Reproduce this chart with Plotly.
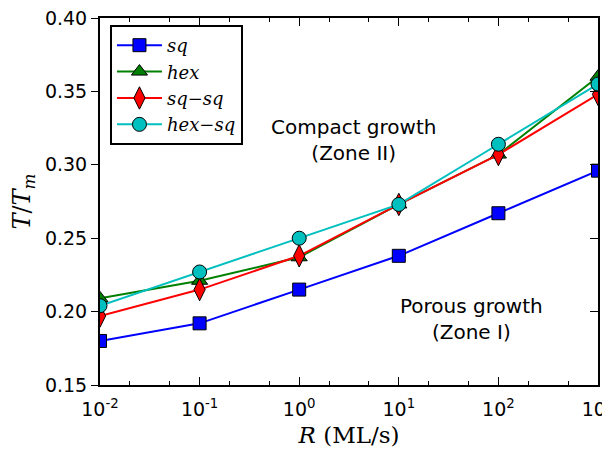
import plotly.graph_objects as go

R = [0.01, 0.1, 1, 10, 100, 1000]
sq = [0.180, 0.192, 0.215, 0.238, 0.267, 0.296]
hexa = [0.209, 0.221, 0.237, 0.273, 0.307, 0.360]
sqsq = [0.197, 0.215, 0.238, 0.273, 0.307, 0.348]
hexsq = [0.204, 0.227, 0.250, 0.273, 0.314, 0.355]

x_tickvals = [0.01, 0.1, 1, 10, 100, 1000]
x_ticktext = ["10<sup>-2</sup>", "10<sup>-1</sup>", "10<sup>0</sup>", "10<sup>1</sup>", "10<sup>2</sup>", "10<sup>3</sup>"]
y_tickvals = [0.15, 0.20, 0.25, 0.30, 0.35, 0.40]
y_ticktext = ["0.15", "0.20", "0.25", "0.30", "0.35", "0.40"]

series = [
    ("sq", sq, "#0000ff", "square", 13),
    ("hex", hexa, "#008000", "triangle-up", 14),
    ("sq\u2212sq", sqsq, "#ff0000", "diamond-tall", 16),
    ("hex\u2212sq", hexsq, "#00bfbf", "circle", 14),
]

fig = go.Figure()
for name, vals, color, sym, size in series:
    fig.add_trace(go.Scatter(
        x=R, y=vals, mode="lines+markers", name=name,
        line=dict(color=color, width=2),
        marker=dict(symbol=sym, size=size, color=color, line=dict(color="black", width=1)),
    ))

# empty trace to carry the right-hand axis (inward ticks)
fig.add_trace(go.Scatter(x=[], y=[], yaxis="y2", showlegend=False, hoverinfo="skip"))

fig.add_annotation(x=0.51, y=0.668, xref="paper", yref="paper", xanchor="center", yanchor="middle",
                   text="Compact growth<br>(Zone II)",
                   showarrow=False, font=dict(family="DejaVu Sans", size=20, color="black"))
fig.add_annotation(x=0.745, y=0.18, xref="paper", yref="paper", xanchor="center", yanchor="middle",
                   text="Porous growth<br>(Zone I)",
                   showarrow=False, font=dict(family="DejaVu Sans", size=20, color="black"))

# page body has an 8px default margin, so the figure is sized to fit inside it
fig.update_layout(
    width=602, height=449,
    margin=dict(l=92, r=12, t=10, b=72),
    paper_bgcolor="white", plot_bgcolor="white",
    font=dict(family="DejaVu Sans", size=19, color="black"),
    showlegend=True,
    legend=dict(x=0.02, y=0.981, xanchor="left", yanchor="top",
                bordercolor="black", borderwidth=2, bgcolor="white",
                font=dict(family="DejaVu Serif", size=18, style="italic"),
                itemwidth=45, tracegroupgap=0),
    xaxis=dict(type="log", range=[-2, 3], tickvals=x_tickvals, ticktext=x_ticktext,
               ticks="inside", ticklen=8, tickwidth=1, tickcolor="black",
               showline=True, linecolor="black", linewidth=2, mirror="ticks",
               showgrid=False, zeroline=False, automargin=False, ticklabeloverflow="allow",
               ticklabelstandoff=6,
               minor=dict(ticks="inside", ticklen=4, tickcolor="black", showgrid=False),
               tickfont=dict(size=19),
               title=dict(text="<i>R</i> (ML/s)", font=dict(family="DejaVu Serif", size=23), standoff=8)),
    yaxis=dict(range=[0.15, 0.40], tickvals=y_tickvals, ticktext=y_ticktext,
               ticks="outside", ticklen=7, tickwidth=1, tickcolor="black",
               showline=True, linecolor="black", linewidth=2, mirror=True,
               showgrid=False, zeroline=False, automargin=False, ticklabeloverflow="allow",
               tickfont=dict(size=19),
               title=dict(text="<i>T</i>/<i>T</i><sub><i>m</i></sub>", font=dict(family="DejaVu Serif", size=24), standoff=12)),
    yaxis2=dict(range=[0.15, 0.40], overlaying="y", side="right", tickvals=y_tickvals,
                ticks="inside", ticklen=8, tickwidth=1, tickcolor="black",
                showticklabels=False, showline=False, showgrid=False, zeroline=False, automargin=False),
)

fig.write_html("out.html")
